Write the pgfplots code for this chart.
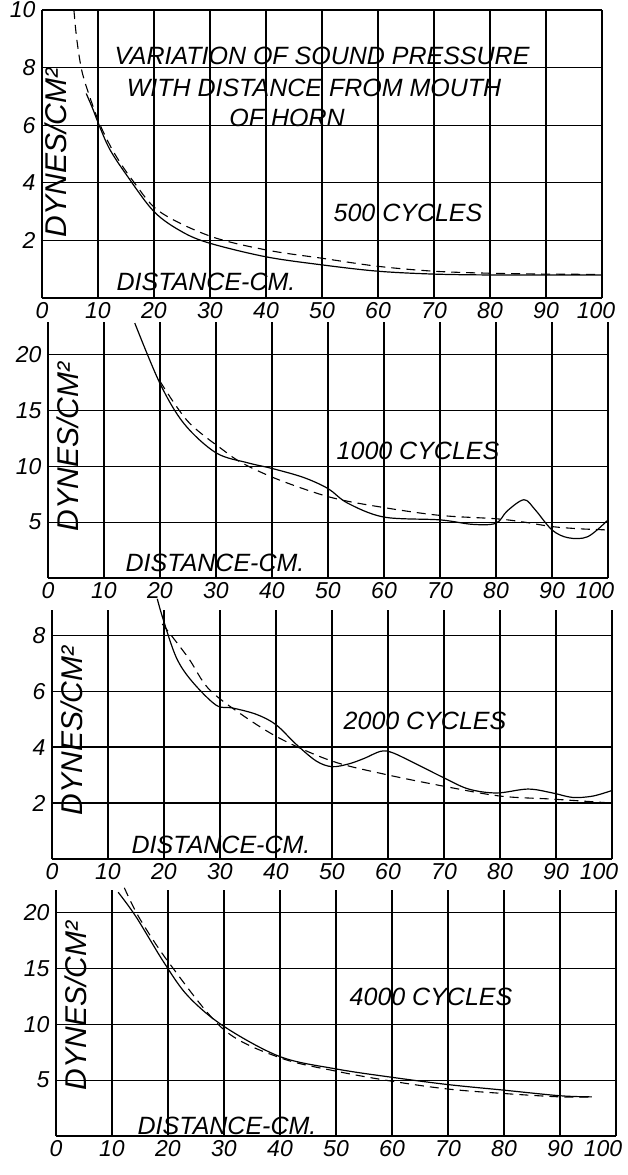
\documentclass[border=0pt]{standalone}
\usepackage{fontspec}
\setmainfont{Liberation Sans}
\usepackage{pgfplots}
\pgfplotsset{compat=1.18}
\begin{document}
\begin{tikzpicture}
\useasboundingbox (0pt,0pt) rectangle (628pt,-1175pt);
\pgfplotsset{
  panel/.style={
    scale only axis, width=560pt, xmin=0, xmax=100, ymin=0,
    anchor=north west, clip=false,
    axis lines=left, axis line style={-, line width=1.2pt},
    x axis line style={-}, y axis line style={-},
    grid=major, grid style={black, line width=1.2pt},
    major tick length=0pt,
    xtick={0,10,20,30,40,50,60,70,80,90,100},
    tick label style={font=\fontsize{23}{25}\selectfont\itshape},
    xticklabel style={yshift=-1pt},
    yticklabel style={xshift=-3pt},
  },
  solidc/.style={black, line width=1.2pt, smooth, tension=0.55},
  dashc/.style={black, line width=1.1pt, dash pattern=on 9pt off 6pt, smooth, tension=0.55},
}
\newcommand{\lab}{\fontsize{25}{28}\selectfont\itshape}
\newcommand{\ylab}{\fontsize{30}{32}\selectfont\itshape}

% ---------- Panel 1: 500 cycles ----------
\begin{axis}[panel, at={(42pt,-10pt)}, height=288pt, ymax=10,
  xticklabels={0,10,20,30,40,50,60,70,80,90,\hspace*{-12pt}100},
  ytick={0,2,4,6,8,10}, yticklabels={,2,4,6,8,10}]
\addplot[solidc] coordinates {(7.9,7.1) (9,6.6) (10,6.1) (12,5.2) (15,4.3) (20,3.0) (25,2.3) (30,1.9) (40,1.43) (50,1.15) (60,0.93) (70,0.83) (80,0.8) (90,0.8) (100,0.8)};
\addplot[dashc] coordinates {(5.7,10) (6.2,9) (7.1,7.9) (8.5,7) (10.4,6) (13,5) (16.5,4) (21,3) (30,2.15) (40,1.67) (50,1.38) (60,1.1) (70,0.93) (80,0.86) (90,0.83) (100,0.82)};
\end{axis}

% ---------- Panel 2: 1000 cycles ----------
\begin{axis}[panel, at={(48pt,-322pt)}, height=256pt, ymax=22.9,
  xticklabels={0,10,20,30,40,50,60,70,80,90,\hspace*{-26pt}100},
  ytick={0,5,10,15,20}, yticklabels={,5,10,15,20}]
\addplot[solidc] coordinates {(15.5,22.8) (20,17.4) (24.3,13.8) (30,11.2) (35.7,10.3) (40,9.8) (45.6,9.0) (50,8.0) (53.5,6.7) (60,5.45) (70,5.2) (75.8,4.8) (80,4.9) (82,6.0) (85,7.0) (87,6.1) (90,4.3) (92.9,3.6) (96.4,3.7) (100,5.2)};
\addplot[dashc] coordinates {(20,17.6) (25,14) (31.4,11.4) (35,10.2) (41.4,8.75) (50.6,7.2) (60,6.3) (70,5.6) (80,5.3) (85,5.0) (90,4.6) (95,4.4) (100,4.3)};
\end{axis}

% ---------- Panel 3: 2000 cycles ----------
\begin{axis}[panel, at={(52pt,-610pt)}, height=249pt, ymax=8.9,
  xticklabels={0,10,20,30,40,50,60,70,80,90,\hspace*{-26pt}100},
  ytick={0,2,4,6,8}, yticklabels={,2,4,6,8}]
\addplot[solidc] coordinates {(18.8,9.3) (19.8,8.6) (22.2,7.2) (25,6.35) (29.3,5.5) (32.2,5.4) (36.5,5.17) (40,4.8) (43.6,4.1) (47.2,3.5) (50,3.3) (53,3.4) (55.8,3.6) (58.7,3.85) (60.8,3.8) (65,3.4) (70,2.9) (74.4,2.5) (79.4,2.36) (85,2.5) (89.4,2.36) (93,2.2) (96.6,2.25) (100,2.45)};
\addplot[dashc] coordinates {(19.7,8.4) (24.3,7.2) (27.9,6.1) (33.6,5.2) (40.8,4.3) (50,3.5) (59.4,3.03) (70,2.6) (80,2.25) (89.4,2.14) (100,2.0)};
\end{axis}

% ---------- Panel 4: 4000 cycles ----------
\begin{axis}[panel, at={(56pt,-890pt)}, height=246pt, ymax=22,
  xticklabels={0,10,20,30,40,50,60,70,80,90,\hspace*{-26pt}100},
  ytick={0,5,10,15,20}, yticklabels={,5,10,15,20}]
\addplot[solidc] coordinates {(11.1,21.8) (14.3,19.6) (19.3,15.5) (23.6,12.5) (30,9.8) (40,7.1) (50,6.0) (60,5.25) (70,4.6) (80,4.1) (90,3.6) (95.7,3.5)};
\addplot[dashc] coordinates {(12.2,22.2) (15,19.4) (20.6,15.2) (30,9.5) (40,7.0) (50,5.8) (60,4.9) (70,4.2) (80,3.8) (90,3.5) (95.7,3.5)};
\end{axis}

% ---------- texts ----------
\node[font=\lab] at (322pt,-56pt) {VARIATION OF SOUND PRESSURE};
\node[font=\lab] at (314pt,-88pt) {WITH DISTANCE FROM MOUTH};
\node[font=\lab] at (287pt,-118pt) {OF HORN};
\node[font=\lab] at (408pt,-213pt) {500 CYCLES};
\node[font=\lab] at (418pt,-451pt) {1000 CYCLES};
\node[font=\lab] at (425pt,-721pt) {2000 CYCLES};
\node[font=\lab] at (431pt,-997pt) {4000 CYCLES};
\node[font=\lab] at (206pt,-282pt) {DISTANCE-CM.};
\node[font=\lab] at (215pt,-563pt) {DISTANCE-CM.};
\node[font=\lab] at (221pt,-845pt) {DISTANCE-CM.};
\node[font=\lab] at (227pt,-1126pt) {DISTANCE-CM.};
\node[font=\ylab, rotate=90] at (56pt,-153pt) {DYNES/CM²};
\node[font=\ylab, rotate=90] at (68pt,-447pt) {DYNES/CM²};
\node[font=\ylab, rotate=90] at (72pt,-731pt) {DYNES/CM²};
\node[font=\ylab, rotate=90] at (76pt,-1006pt) {DYNES/CM²};
\end{tikzpicture}
\end{document}
